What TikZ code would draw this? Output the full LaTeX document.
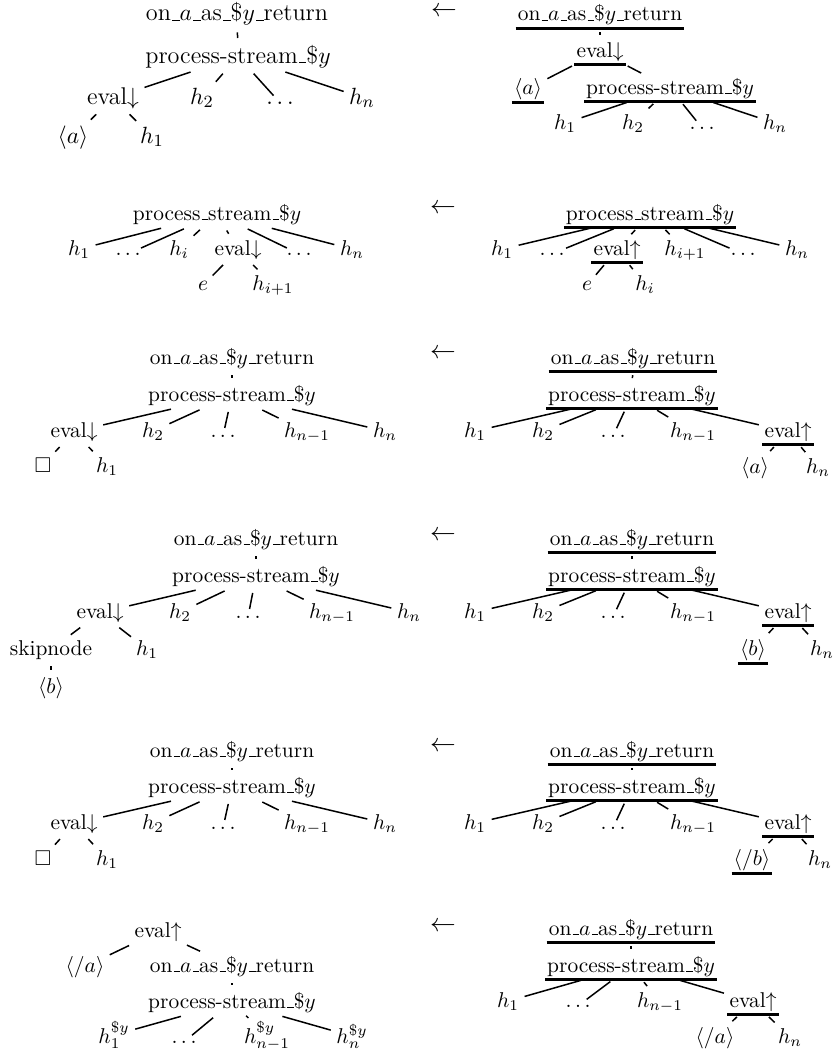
\documentclass[tikz,border=0pt]{standalone}
\usepackage{amssymb}
\usepackage{tikz}
\newcommand\usc{\leavevmode\kern.06em\vbox{\hrule width.3em}}
\newcommand\onret{on\usc$a$\usc as\usc\$$y$\usc return}
\newcommand\pstr{process-stream\usc\$$y$}
\newcommand\pstru{process\usc stream\usc\$$y$}
\newcommand\evd{eval$\downarrow$}
\newcommand\evu{eval$\uparrow$}
\tikzset{
  nd/.style={anchor=base, inner xsep=1pt, inner ysep=1.5pt, outer sep=0pt},
  % markierter Knoten: dicker Strich unter dem Text
  ul/.style={line width=1.3pt, shorten <=0pt, shorten >=0pt},
  mk/.style={nd, append after command={(\tikzlastnode.south west) edge[ul] (\tikzlastnode.south east)}},
  ln/.style={line width=0.7pt, shorten <=1.7pt, shorten >=1.7pt},
  big/.style={font=\fontsize{11.3}{13.5}\selectfont},
  arw/.style={anchor=base, inner sep=0pt, font=\fontsize{12}{14}\selectfont}
}

\begin{document}
\begin{tikzpicture}[x=0.467pt, y=-0.467pt]
  \useasboundingbox (0,0) rectangle (833,1057);

  % Regel 1
  \node[nd, big] (l1r) at (237,21) {\onret};
  \node[nd, big] (l1p) at (238,63) {\pstr};
  \node[nd, big] (l1e) at (113,104) {\evd};
  \node[nd, big] (l1h2) at (202,104) {$h_2$};
  \node[nd, big] (l1d) at (280,104) {$\ldots$};
  \node[nd, big] (l1hn) at (362,104) {$h_n$};
  \node[nd, big] (l1a) at (73,143) {$\langle a\rangle$};
  \node[nd, big] (l1h1) at (152,143) {$h_1$};
  \path (l1r) edge[ln] (l1p)
        (l1p) edge[ln] (l1e) edge[ln] (l1h2) edge[ln] (l1d) edge[ln] (l1hn)
        (l1e) edge[ln] (l1a) edge[ln] (l1h1);

  \node[arw] (ar1) at (444,17) {$\leftarrow$};
  \node[mk] (r1r) at (600,21) {\onret};
  \node[mk] (r1e) at (600,57) {\evd};
  \node[mk] (r1a) at (528,94) {$\langle a\rangle$};
  \node[mk] (r1p) at (670,94) {\pstr};
  \node[nd] (r1h1) at (565,129) {$h_1$};
  \node[nd] (r1h2) at (633,129) {$h_2$};
  \node[nd] (r1d) at (702,129) {$\ldots$};
  \node[nd] (r1hn) at (775,129) {$h_n$};
  \path (r1r) edge[ln] (r1e)
        (r1e) edge[ln] (r1a) edge[ln] (r1p)
        (r1p) edge[ln] (r1h1) edge[ln] (r1h2) edge[ln] (r1d) edge[ln] (r1hn);

  % Regel 2
  \node[nd] (l2p) at (217,220) {\pstru};
  \node[nd] (l2h1) at (79,255) {$h_1$};
  \node[nd] (l2d1) at (128,255) {$\ldots$};
  \node[nd] (l2hi) at (179,255) {$h_i$};
  \node[nd] (l2e) at (238,255) {\evd};
  \node[nd] (l2d2) at (299,255) {$\ldots$};
  \node[nd] (l2hn) at (352,255) {$h_n$};
  \node[nd] (l2x) at (203,290) {$e$};
  \node[nd] (l2hj) at (273,290) {$h_{i+1}$};
  \path (l2p) edge[ln] (l2h1) edge[ln] (l2d1) edge[ln] (l2hi) edge[ln] (l2e)
              edge[ln] (l2d2) edge[ln] (l2hn)
        (l2e) edge[ln] (l2x) edge[ln] (l2hj);

  \node[arw] (ar2) at (443,213) {$\leftarrow$};
  \node[mk] (r2p) at (650,220) {\pstru};
  \node[nd] (r2h1) at (502,255) {$h_1$};
  \node[nd] (r2d1) at (552,255) {$\ldots$};
  \node[mk] (r2e) at (617,255) {\evu};
  \node[nd] (r2hj) at (685,255) {$h_{i+1}$};
  \node[nd] (r2d2) at (743,255) {$\ldots$};
  \node[nd] (r2hn) at (797,255) {$h_n$};
  \node[nd] (r2x) at (587,290) {$e$};
  \node[nd] (r2hi) at (645,290) {$h_i$};
  \path (r2p) edge[ln] (r2h1) edge[ln] (r2d1) edge[ln] (r2e) edge[ln] (r2hj)
              edge[ln] (r2d2) edge[ln] (r2hn)
        (r2e) edge[ln] (r2x) edge[ln] (r2hi);

  % Regel 3
  \node[nd] (l3r) at (232,364) {\onret};
  \node[nd] (l3p) at (232,401) {\pstr};
  \node[nd] (l3e) at (74,437) {\evd};
  \node[nd] (l3h2) at (153,437) {$h_2$};
  \node[nd] (l3d) at (223,437) {$\ldots$};
  \node[nd] (l3hm) at (307,437) {$h_{n-1}$};
  \node[nd] (l3hn) at (385,437) {$h_n$};
  \node[nd] (l3b) at (43,472) {$\square$};
  \node[nd] (l3h1) at (107,472) {$h_1$};
  \path (l3r) edge[ln] (l3p)
        (l3p) edge[ln] (l3e) edge[ln] (l3h2) edge[ln] (l3d) edge[ln] (l3hm) edge[ln] (l3hn)
        (l3e) edge[ln] (l3b) edge[ln] (l3h1);

  \node[arw] (ar3) at (443,358) {$\leftarrow$};
  \node[mk] (r3r) at (633,364) {\onret};
  \node[mk] (r3p) at (632,401) {\pstr};
  \node[nd] (r3h1) at (475,437) {$h_1$};
  \node[nd] (r3h2) at (543,437) {$h_2$};
  \node[nd] (r3d) at (613,437) {$\ldots$};
  \node[nd] (r3hm) at (693,437) {$h_{n-1}$};
  \node[mk] (r3e) at (788,437) {\evu};
  \node[nd] (r3a) at (755,473) {$\langle a\rangle$};
  \node[nd] (r3hn) at (818,473) {$h_n$};
  \path (r3r) edge[ln] (r3p)
        (r3p) edge[ln] (r3h1) edge[ln] (r3h2) edge[ln] (r3d) edge[ln] (r3hm) edge[ln] (r3e)
        (r3e) edge[ln] (r3a) edge[ln] (r3hn);

  % Regel 4
  \node[nd] (l4r) at (256,545) {\onret};
  \node[nd] (l4p) at (256,582) {\pstr};
  \node[nd] (l4e) at (100,618) {\evd};
  \node[nd] (l4h2) at (180,618) {$h_2$};
  \node[nd] (l4d) at (248,618) {$\ldots$};
  \node[nd] (l4hm) at (332,618) {$h_{n-1}$};
  \node[nd] (l4hn) at (409,618) {$h_n$};
  \node[nd] (l4s) at (51,655) {skipnode};
  \node[nd] (l4h1) at (147,655) {$h_1$};
  \node[nd] (l4b) at (51,693) {$\langle b\rangle$};
  \path (l4r) edge[ln] (l4p)
        (l4p) edge[ln] (l4e) edge[ln] (l4h2) edge[ln] (l4d) edge[ln] (l4hm) edge[ln] (l4hn)
        (l4e) edge[ln] (l4s) edge[ln] (l4h1)
        (l4s) edge[ln] (l4b);

  \node[arw] (ar4) at (443,540) {$\leftarrow$};
  \node[mk] (r4r) at (632,545) {\onret};
  \node[mk] (r4p) at (632,582) {\pstr};
  \node[nd] (r4h1) at (475,618) {$h_1$};
  \node[nd] (r4h2) at (543,618) {$h_2$};
  \node[nd] (r4d) at (613,618) {$\ldots$};
  \node[nd] (r4hm) at (693,618) {$h_{n-1}$};
  \node[mk] (r4e) at (788,618) {\evu};
  \node[mk] (r4b) at (753,655) {$\langle b\rangle$};
  \node[nd] (r4hn) at (822,655) {$h_n$};
  \path (r4r) edge[ln] (r4p)
        (r4p) edge[ln] (r4h1) edge[ln] (r4h2) edge[ln] (r4d) edge[ln] (r4hm) edge[ln] (r4e)
        (r4e) edge[ln] (r4b) edge[ln] (r4hn);

  % Regel 5
  \node[nd] (l5r) at (232,757) {\onret};
  \node[nd] (l5p) at (232,793) {\pstr};
  \node[nd] (l5e) at (74,829) {\evd};
  \node[nd] (l5h2) at (153,829) {$h_2$};
  \node[nd] (l5d) at (223,829) {$\ldots$};
  \node[nd] (l5hm) at (307,829) {$h_{n-1}$};
  \node[nd] (l5hn) at (385,829) {$h_n$};
  \node[nd] (l5b) at (43,865) {$\square$};
  \node[nd] (l5h1) at (107,865) {$h_1$};
  \path (l5r) edge[ln] (l5p)
        (l5p) edge[ln] (l5e) edge[ln] (l5h2) edge[ln] (l5d) edge[ln] (l5hm) edge[ln] (l5hn)
        (l5e) edge[ln] (l5b) edge[ln] (l5h1);

  \node[arw] (ar5) at (443,751) {$\leftarrow$};
  \node[mk] (r5r) at (632,757) {\onret};
  \node[mk] (r5p) at (632,793) {\pstr};
  \node[nd] (r5h1) at (475,829) {$h_1$};
  \node[nd] (r5h2) at (543,829) {$h_2$};
  \node[nd] (r5d) at (613,829) {$\ldots$};
  \node[nd] (r5hm) at (693,829) {$h_{n-1}$};
  \node[mk] (r5e) at (788,829) {\evu};
  \node[mk] (r5b) at (752,865) {$\langle /b\rangle$};
  \node[nd] (r5hn) at (820,865) {$h_n$};
  \path (r5r) edge[ln] (r5p)
        (r5p) edge[ln] (r5h1) edge[ln] (r5h2) edge[ln] (r5d) edge[ln] (r5hm) edge[ln] (r5e)
        (r5e) edge[ln] (r5b) edge[ln] (r5hn);

  % Regel 6
  \node[nd] (l6e) at (158,937) {\evu};
  \node[nd] (l6a) at (85,972) {$\langle /a\rangle$};
  \node[nd] (l6r) at (232,972) {\onret};
  \node[nd] (l6p) at (232,1008) {\pstr};
  \node[nd] (l6h1) at (114,1043) {$h_1^{\$y}$};
  \node[nd] (l6d) at (184,1043) {$\ldots$};
  \node[nd] (l6hm) at (267,1043) {$h_{n-1}^{\$y}$};
  \node[nd] (l6hn) at (352,1043) {$h_n^{\$y}$};
  \path (l6e) edge[ln] (l6a) edge[ln] (l6r)
        (l6r) edge[ln] (l6p)
        (l6p) edge[ln] (l6h1) edge[ln] (l6d) edge[ln] (l6hm) edge[ln] (l6hn);

  \node[arw] (ar6) at (443,931) {$\leftarrow$};
  \node[mk] (r6r) at (631,935) {\onret};
  \node[mk] (r6p) at (631,972) {\pstr};
  \node[nd] (r6h1) at (508,1007) {$h_1$};
  \node[nd] (r6d) at (578,1007) {$\ldots$};
  \node[nd] (r6hm) at (660,1007) {$h_{n-1}$};
  \node[mk] (r6e) at (753,1007) {\evu};
  \node[nd] (r6a) at (715,1043) {$\langle /a\rangle$};
  \node[nd] (r6hn) at (790,1043) {$h_n$};
  \path (r6r) edge[ln] (r6p)
        (r6p) edge[ln] (r6h1) edge[ln] (r6d) edge[ln] (r6hm) edge[ln] (r6e)
        (r6e) edge[ln] (r6a) edge[ln] (r6hn);
\end{tikzpicture}
\end{document}
